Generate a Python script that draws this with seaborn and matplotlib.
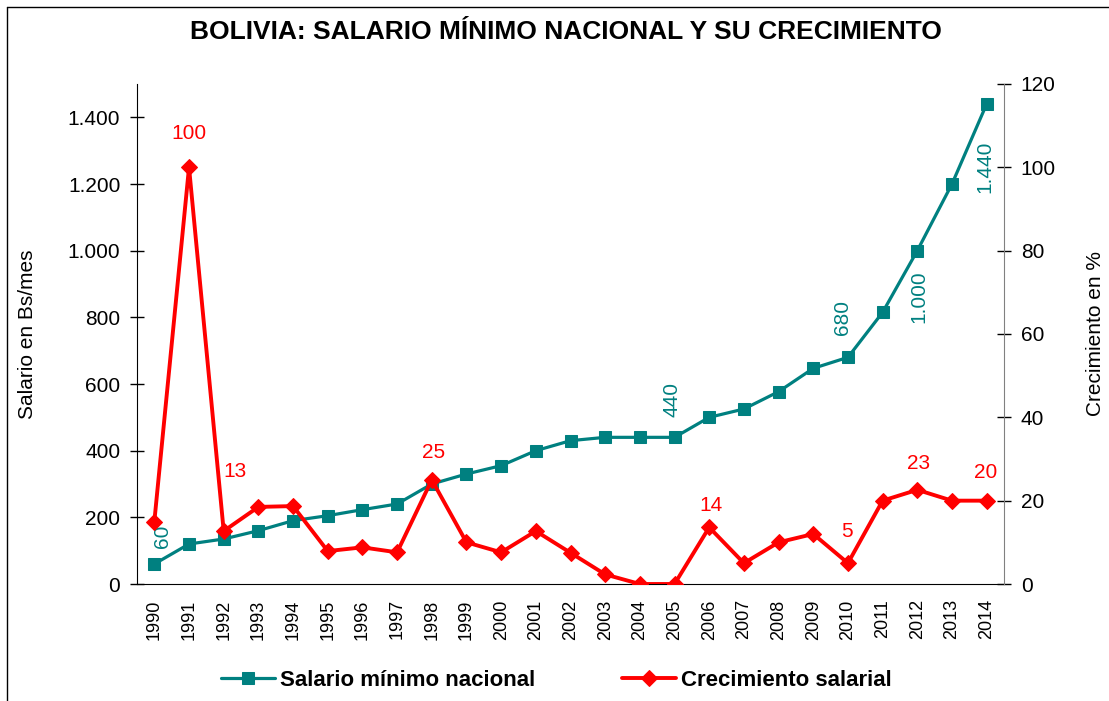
import numpy as np
import pandas as pd
import matplotlib.pyplot as plt
import matplotlib.lines as mlines
from matplotlib.ticker import FixedLocator, FuncFormatter
import seaborn as sns

sns.set_style("white")
plt.rcParams['font.family'] = ['Liberation Sans', 'DejaVu Sans']
plt.rcParams['text.color'] = 'black'
plt.rcParams['axes.labelcolor'] = 'black'
plt.rcParams['xtick.color'] = 'black'
plt.rcParams['ytick.color'] = 'black'

# datos
years = list(range(1990, 2015))
salario = [60, 120, 135, 160, 190, 205, 223, 240, 300, 330, 355, 400, 430,
           440, 440, 440, 500, 525, 577, 647, 680, 815, 1000, 1200, 1440]
crecimiento = [15, 100, 12.7, 18.5, 18.7, 7.9, 8.8, 7.6, 25, 10, 7.6, 12.7, 7.5,
               2.3, 0, 0, 13.6, 5, 10, 12, 5, 20, 22.6, 20, 20]

# etiquetas de datos (año, texto, desplazamiento en pt)
lab_sal = [(1990, "60", (6, 20)), (2005, "440", (-2, 27)), (2010, "680", (-4, 29)),
           (2012, "1.000", (1, -33)), (2014, "1.440", (-1, -45))]
lab_crec = [(1991, "100", (0, 24)), (1992, "13", (8, 43)), (1998, "25", (1, 20)),
            (2006, "14", (1, 16)), (2010, "5", (-1, 23)), (2012, "23", (1, 19)),
            (2014, "20", (-1, 20))]

TEAL = "#008080"
RED = "#FF0000"

df = pd.DataFrame({"idx": np.arange(len(years)), "year": years,
                   "salario": salario, "crecimiento": crecimiento})

fig = plt.figure(figsize=(11.09, 7.01), dpi=100)
ax = fig.add_axes([137/1109, 1-584/701, (1004-137)/1109, (584-84)/701])
ax2 = ax.twinx()

sns.lineplot(data=df, x="idx", y="salario", ax=ax, color=TEAL, lw=2.3,
             marker="s", markersize=8, markeredgecolor=TEAL, label="Salario mínimo nacional",
             legend=False)
sns.lineplot(data=df, x="idx", y="crecimiento", ax=ax2, color=RED, lw=2.8,
             marker="D", markersize=8, markeredgecolor=RED, label="Crecimiento salarial",
             legend=False)

ax.set_xlim(-0.5, len(years) - 0.5)
ax.set_ylim(0, 1500)
ax2.set_ylim(0, 120)
ax.set_yticks(range(0, 1401, 200))
ax2.set_yticks(range(0, 121, 20))
ax.yaxis.set_major_formatter(FuncFormatter(lambda v, p: f"{int(v):,}".replace(",", ".")))

ax.set_xticks(df.idx)
ax.set_xticklabels(years, rotation=90, fontsize=13)
ax.xaxis.set_minor_locator(FixedLocator(np.arange(-0.5, len(years), 1)))
ax.tick_params(axis="x", which="major", length=0, pad=11)
ax.tick_params(axis="x", which="minor", length=13, width=1, direction="inout", color="black")
ax.tick_params(axis="y", length=10, width=1, direction="inout", labelsize=15, pad=7, color="black")
ax2.tick_params(axis="y", length=10, width=1, direction="inout", labelsize=15, pad=7, color="black")
ax.set_xlabel("")
ax.set_ylabel("Salario en Bs/mes", fontsize=15, labelpad=22)
ax2.set_ylabel("Crecimiento en %", fontsize=15, labelpad=22)

for a in (ax, ax2):
    a.spines["top"].set_visible(False)
    a.grid(False)
ax.spines["right"].set_visible(False)
ax2.spines["left"].set_visible(False)
ax2.spines["bottom"].set_visible(False)
ax.spines["left"].set_color("black")
ax.spines["bottom"].set_color("black")
ax2.spines["right"].set_color("#808080")

for yr, txt, off in lab_sal:
    i = years.index(yr)
    ax.annotate(txt, (i, salario[i]), xytext=off, textcoords="offset points",
                ha="center", va="center", rotation=90, color=TEAL, fontsize=15)
for yr, txt, off in lab_crec:
    i = years.index(yr)
    ax2.annotate(txt, (i, crecimiento[i]), xytext=off, textcoords="offset points",
                 ha="center", va="center", color=RED, fontsize=15)

fig.text(0.510, 1-32/701, "BOLIVIA: SALARIO MÍNIMO NACIONAL Y SU CRECIMIENTO",
         ha="center", va="center", fontsize=19, fontweight="bold")

h1, l1 = ax.get_legend_handles_labels()
h2, l2 = ax2.get_legend_handles_labels()
fig.legend(h1 + h2, l1 + l2, loc="center", bbox_to_anchor=(0.502, 1-680/701), ncol=2,
           frameon=False, prop={"size": 16, "weight": "bold"}, handlelength=2.4,
           columnspacing=3.9, handletextpad=0.25)

# marco de la figura
fig.add_artist(mlines.Line2D([7/1109, 1], [1-7/701, 1-7/701], color="black", lw=1,
                             transform=fig.transFigure))
fig.add_artist(mlines.Line2D([7/1109, 7/1109], [0, 1-7/701], color="black", lw=1,
                             transform=fig.transFigure))

fig.savefig("out.png", dpi=100)
